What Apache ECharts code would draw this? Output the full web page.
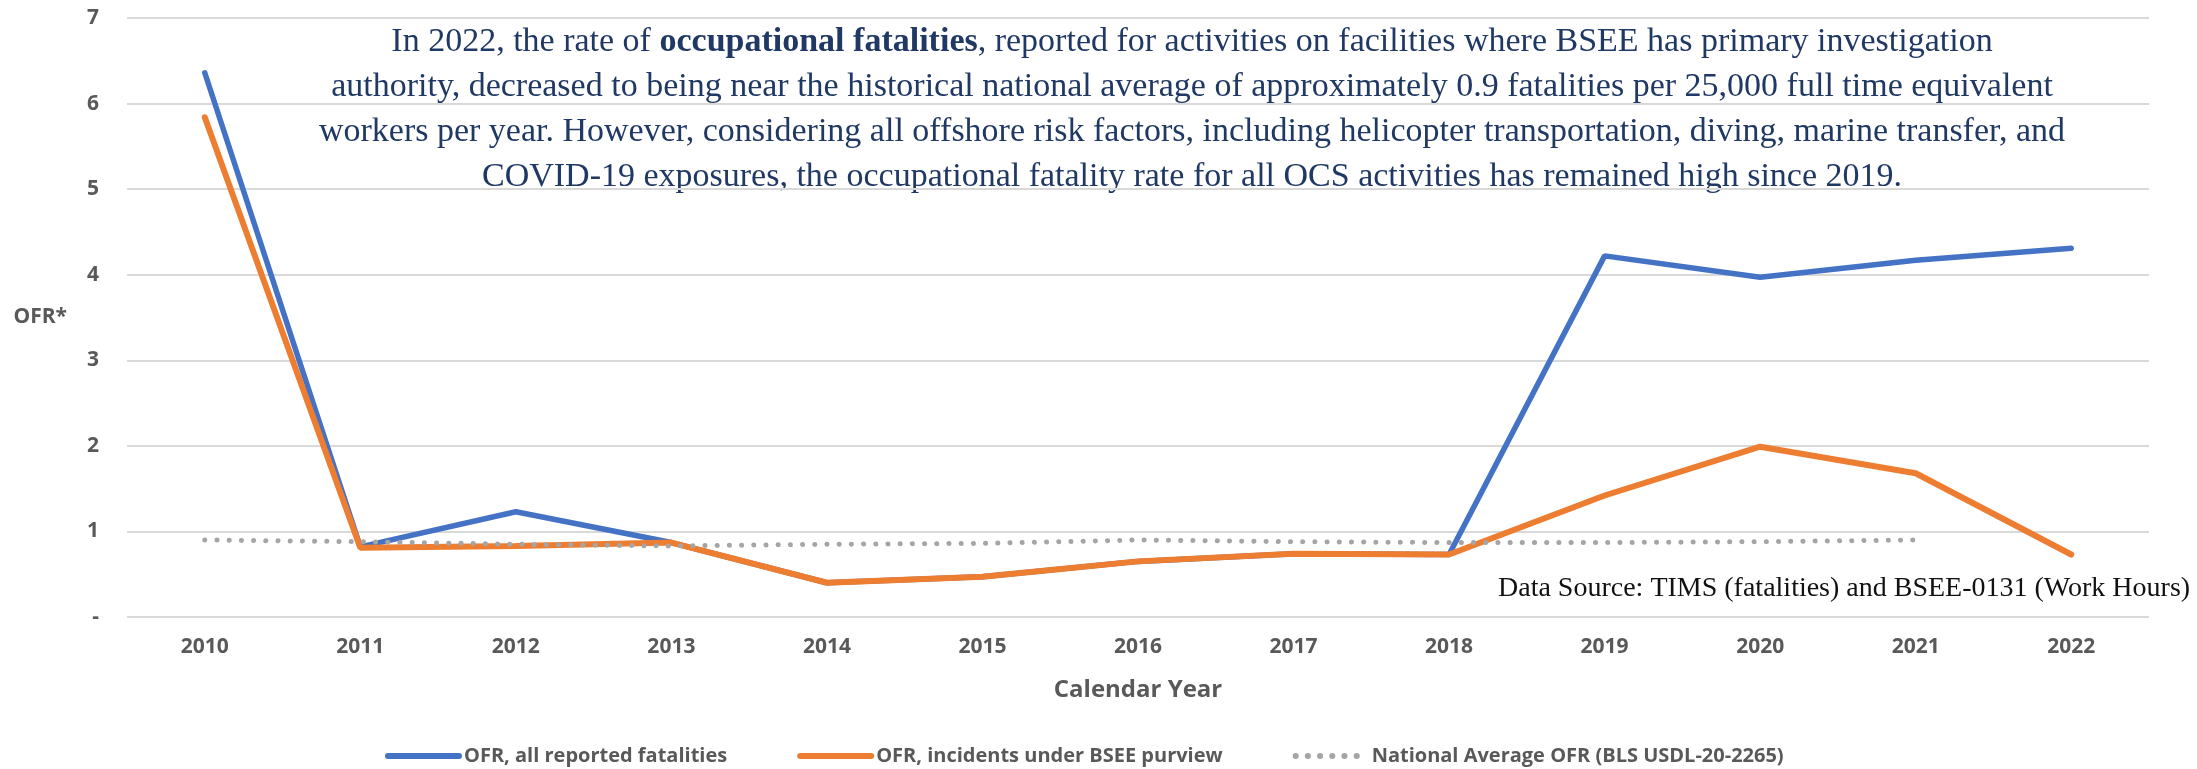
<!DOCTYPE html>
<html lang="en">
<head>
<meta charset="utf-8">
<title>Occupational fatality rate</title>
<script src="https://cdn.jsdelivr.net/npm/echarts@6/dist/echarts.min.js"></script>
<style>
  html, body { margin: 0; padding: 0; background: #fff; }
  #main { width: 2197px; height: 769px; }
</style>
</head>
<body>
<div id="main"></div>
<script>
// years on the x axis
var years = ['2010', '2011', '2012', '2013', '2014', '2015', '2016', '2017', '2018', '2019', '2020', '2021', '2022'];
// OFR, all reported fatalities
var ofrAll = [6.36, 0.82, 1.23, 0.87, 0.40, 0.47, 0.65, 0.74, 0.73, 4.22, 3.97, 4.17, 4.31];
// OFR, incidents under BSEE purview
var ofrBsee = [5.84, 0.81, 0.83, 0.87, 0.40, 0.47, 0.65, 0.74, 0.73, 1.42, 1.99, 1.68, 0.73];
// national average (no value for 2022)
var nationalAvg = [0.90, 0.88, 0.85, 0.83, 0.85, 0.86, 0.90, 0.88, 0.87, 0.87, 0.88, 0.90, null];
var seriesNames = ['OFR, all reported fatalities', 'OFR, incidents under BSEE purview', 'National Average OFR (BLS USDL-20-2265)'];

// the note in the top of the plot, one entry per line
var noteLines = [
    'In 2022, the rate of {b|occupational fatalities}, reported for activities on facilities where BSEE has primary investigation',
    'authority, decreased to being near the historical national average of approximately 0.9 fatalities per 25,000 full time equivalent',
    'workers per year. However, considering all offshore risk factors, including helicopter transportation, diving, marine transfer, and',
    'COVID-19 exposures, the occupational fatality rate for all OCS activities has remained high since 2019.'
];

var gray = '#595959';
var navy = '#1F3864';
var chart = echarts.init(document.getElementById('main'));

var graphics = noteLines.map(function (line, i) {
    return {
        type: 'text',
        x: 1192,
        y: 20 + i * 45,
        style: {
            text: line,
            align: 'center',
            verticalAlign: 'top',
            fill: navy,
            fontFamily: 'Liberation Serif',
            fontSize: 34,
            lineHeight: 45,
            rich: {
                b: { fontWeight: 'bold', fontFamily: 'Liberation Serif', fontSize: 34, fill: navy, lineHeight: 45 }
            }
        }
    };
});
graphics.push({
    type: 'text',
    x: 1498,
    y: 575,
    style: {
        text: 'Data Source: TIMS (fatalities) and BSEE-0131 (Work Hours)',
        fill: '#111',
        fontFamily: 'Liberation Serif',
        fontSize: 28
    }
});

var option = {
    animation: false,
    grid: { left: 127, right: 48, top: 18, bottom: 152 },
    legend: {
        top: 741,
        left: 380,
        itemWidth: 71,
        itemHeight: 14,
        itemGap: 70,
        itemStyle: { opacity: 0 },
        lineStyle: { width: 6 },
        textStyle: { color: gray, fontFamily: 'Open Sans', fontWeight: 'bold', fontSize: 20 },
        data: seriesNames
    },
    xAxis: {
        type: 'category',
        data: years,
        boundaryGap: true,
        name: 'Calendar Year',
        nameLocation: 'middle',
        nameGap: 61,
        nameTextStyle: { color: gray, fontFamily: 'Open Sans', fontWeight: 'bold', fontSize: 24 },
        axisLine: { show: false },
        axisTick: { show: false },
        axisLabel: { color: gray, fontFamily: 'Open Sans', fontWeight: 'bold', fontSize: 21, margin: 20 }
    },
    yAxis: {
        type: 'value',
        min: 0,
        max: 7,
        interval: 1,
        name: 'OFR*',
        nameLocation: 'middle',
        nameRotate: 0,
        nameGap: 60,
        nameTextStyle: { color: gray, fontFamily: 'Open Sans', fontWeight: 'bold', fontSize: 21, align: 'right' },
        axisLabel: {
            color: gray, fontFamily: 'Open Sans', fontWeight: 'bold', fontSize: 21, margin: 28,
            formatter: function (v) { return v === 0 ? '-' : v; }
        },
        splitLine: { lineStyle: { color: '#D9D9D9', width: 2 } }
    },
    series: [
        {
            name: seriesNames[0],
            type: 'line',
            data: ofrAll,
            symbol: 'none',
            lineStyle: { color: '#4472C4', width: 5.5, cap: 'round' },
            itemStyle: { color: '#4472C4' }
        },
        {
            name: seriesNames[1],
            type: 'line',
            data: ofrBsee,
            symbol: 'none',
            lineStyle: { color: '#ED7D31', width: 6, cap: 'round' },
            itemStyle: { color: '#ED7D31' }
        },
        {
            name: seriesNames[2],
            type: 'line',
            data: nationalAvg,
            symbol: 'none',
            lineStyle: { color: '#A5A5A5', width: 5, type: [0.1, 12.1], cap: 'round' },
            itemStyle: { color: '#A5A5A5' }
        }
    ],
    graphic: graphics
};

chart.setOption(option);
</script>
</body>
</html>
